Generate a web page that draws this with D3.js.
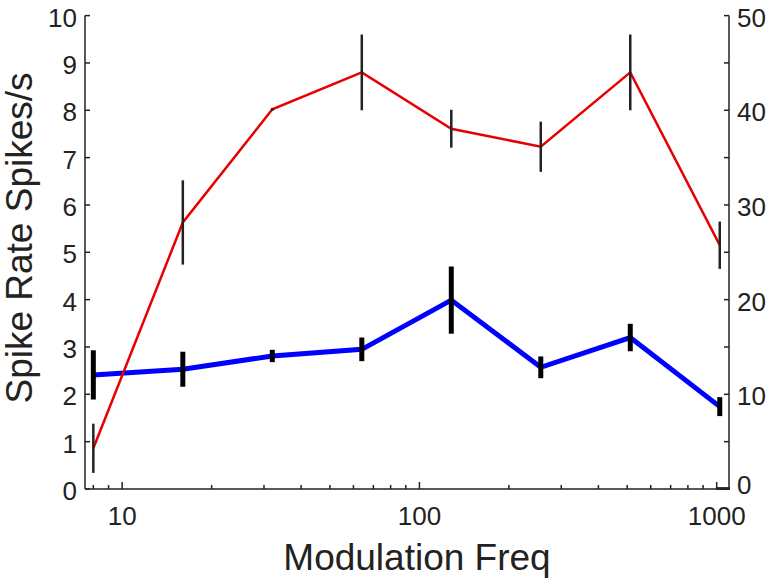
<!DOCTYPE html>
<html><head><meta charset="utf-8">
<script src="https://cdn.jsdelivr.net/npm/d3@7"></script>
<style>
html,body{margin:0;padding:0;background:#fff;}
text{font-family:"Liberation Sans",Arial,Helvetica,sans-serif;fill:#222;}
</style></head>
<body>
<svg id="chart" width="768" height="583"></svg>
<script>
// Data
const freqs = [8, 16, 32, 64, 128, 256, 512, 1024];
// red series (left axis, Spikes/s)
const redMean = [0.86, 5.63, 8.02, 8.80, 7.61, 7.23, 8.80, 5.15];
const redErr  = [0.52, 0.89, 0.03, 0.80, 0.40, 0.53, 0.80, 0.50];
// blue series (right axis)
const blueMean = [12.05, 12.65, 14.05, 14.75, 19.95, 12.85, 16.0, 8.7];
const blueErr  = [2.6, 1.85, 0.65, 1.25, 3.55, 1.15, 1.45, 1.0];
const leftTicks = [0,1,2,3,4,5,6,7,8,9,10];
const rightTicks = [0,5,10,15,20,25,30,35,40,45,50];
const rightLabels = [0,10,20,30,40,50];
const xMajor = [10, 100, 1000];
const xMinor = [8,9,20,30,40,50,60,70,80,90,200,300,400,500,600,700,800,900];

const svg = d3.select("#chart");
const L = 85, R = 729, T = 15.6, B = 489;
const x = d3.scaleLog().domain([7.5, 1100]).range([L, R]);
const yL = d3.scaleLinear().domain([0, 10]).range([B, T]);
const yR = d3.scaleLinear().domain([0, 50]).range([B, T]);
const axisColor = "#222";

// axes lines
const ax = svg.append("g").attr("stroke", axisColor).attr("stroke-width", 1.5).attr("fill","none");
ax.append("line").attr("x1", L).attr("x2", L).attr("y1", T).attr("y2", B);
ax.append("line").attr("x1", R).attr("x2", R).attr("y1", T).attr("y2", B);
ax.append("line").attr("x1", L).attr("x2", R).attr("y1", B).attr("y2", B);
ax.append("line").attr("x1", x(1000)).attr("x2", R + 1).attr("y1", B - 0.5).attr("y2", B - 0.5)
  .attr("stroke-width", 2.8);

// left ticks
ax.selectAll(".lt").data(leftTicks).enter().append("line")
  .attr("x1", L).attr("x2", L + 5).attr("y1", d => yL(d)).attr("y2", d => yL(d));
svg.selectAll(".ll").data(leftTicks).enter().append("text")
  .attr("x", L - 8).attr("y", d => yL(d)).attr("dy", "0.42em")
  .attr("text-anchor", "end").attr("font-size", 26).text(d => d);

// right ticks
ax.selectAll(".rt").data(rightTicks).enter().append("line")
  .attr("x1", R - 5).attr("x2", R).attr("y1", d => yR(d)).attr("y2", d => yR(d));
svg.selectAll(".rl").data(rightLabels).enter().append("text")
  .attr("x", R + 8).attr("y", d => yR(d) - (d === 0 ? 6 : 0)).attr("dy", "0.42em")
  .attr("text-anchor", "start").attr("font-size", 26).text(d => d);

// x ticks
ax.selectAll(".xM").data(xMajor).enter().append("line")
  .attr("x1", d => x(d)).attr("x2", d => x(d)).attr("y1", B).attr("y2", B - 7);
ax.selectAll(".xm").data(xMinor).enter().append("line")
  .attr("x1", d => x(d)).attr("x2", d => x(d)).attr("y1", B).attr("y2", B - 4);
svg.selectAll(".xl").data(xMajor).enter().append("text")
  .attr("x", d => x(d)).attr("y", 525)
  .attr("text-anchor", "middle").attr("font-size", 26).text(d => d);

// axis titles
svg.append("text").attr("x", 417).attr("y", 570).attr("text-anchor", "middle")
  .attr("font-size", 37).text("Modulation Freq");
svg.append("text").attr("transform", "translate(32,238) rotate(-90)")
  .attr("text-anchor", "middle").attr("font-size", 37).text("Spike Rate Spikes/s");

// blue series
const blueLine = d3.line().x((d, i) => x(freqs[i])).y(d => yR(d));
svg.append("path").datum(blueMean).attr("d", blueLine)
  .attr("fill", "none").attr("stroke", "#0000ff").attr("stroke-width", 5).attr("stroke-linejoin", "miter");
svg.selectAll(".be").data(blueMean).enter().append("line")
  .attr("x1", (d, i) => x(freqs[i])).attr("x2", (d, i) => x(freqs[i]))
  .attr("y1", (d, i) => yR(d - blueErr[i])).attr("y2", (d, i) => yR(d + blueErr[i]))
  .attr("stroke", "#000").attr("stroke-width", 5);

// red series
const redLine = d3.line().x((d, i) => x(freqs[i])).y(d => yL(d));
svg.append("path").datum(redMean).attr("d", redLine)
  .attr("fill", "none").attr("stroke", "#e80000").attr("stroke-width", 2.5);
svg.selectAll(".re").data(redMean).enter().append("line")
  .attr("x1", (d, i) => x(freqs[i])).attr("x2", (d, i) => x(freqs[i]))
  .attr("y1", (d, i) => yL(d - redErr[i])).attr("y2", (d, i) => yL(d + redErr[i]))
  .attr("stroke", "#222").attr("stroke-width", 2.5);
</script>
</body></html>
